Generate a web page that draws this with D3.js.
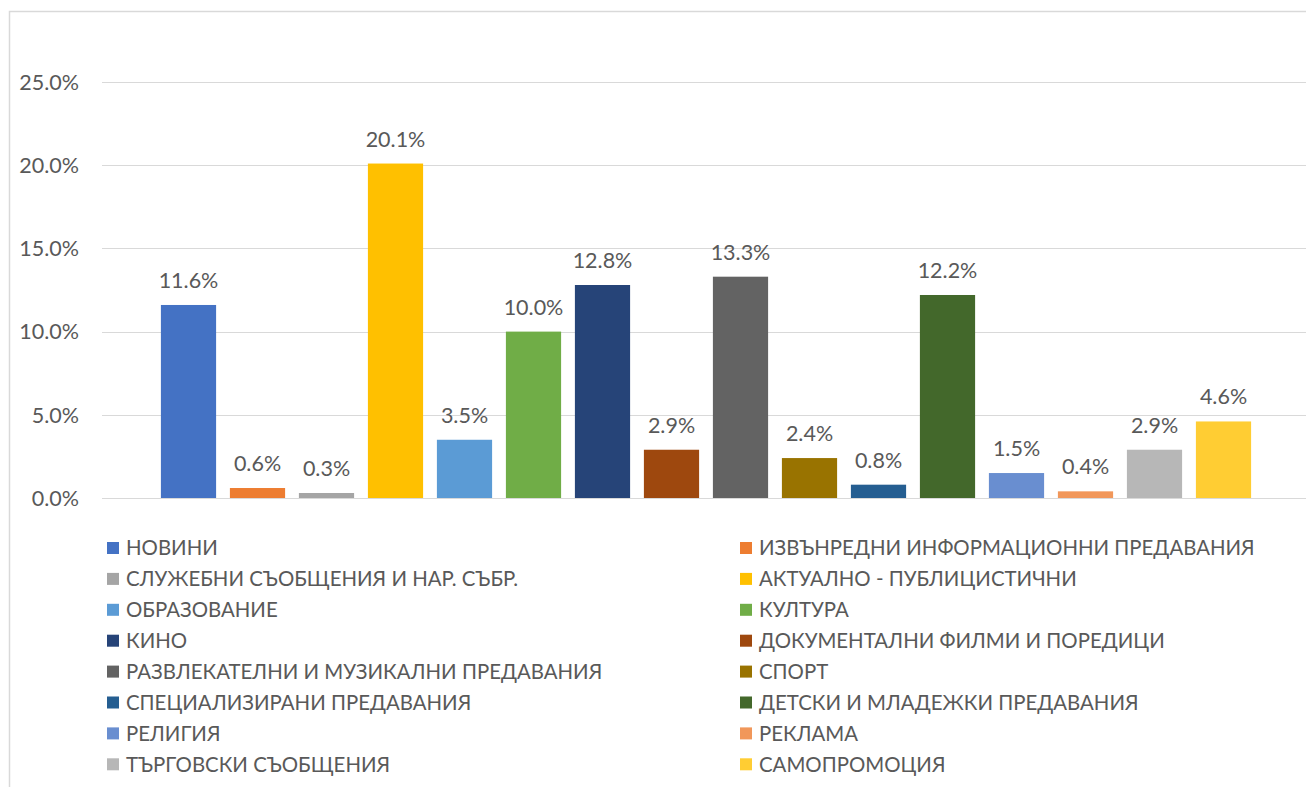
<!DOCTYPE html>
<html lang="bg">
<head>
<meta charset="utf-8">
<title>Програмна структура</title>
<script src="https://cdn.jsdelivr.net/npm/d3@7"></script>
<style>
  body { margin: 0; background: #fff; }
  text { font-family: Lato, "Open Sans", sans-serif; fill: #595959; }
</style>
</head>
<body>
<div id="chart"></div>
<script>
// data
var categories = ["НОВИНИ", "ИЗВЪНРЕДНИ ИНФОРМАЦИОННИ ПРЕДАВАНИЯ", "СЛУЖЕБНИ СЪОБЩЕНИЯ И НАР. СЪБР.",
  "АКТУАЛНО - ПУБЛИЦИСТИЧНИ", "ОБРАЗОВАНИЕ", "КУЛТУРА", "КИНО", "ДОКУМЕНТАЛНИ ФИЛМИ И ПОРЕДИЦИ",
  "РАЗВЛЕКАТЕЛНИ И МУЗИКАЛНИ ПРЕДАВАНИЯ", "СПОРТ", "СПЕЦИАЛИЗИРАНИ ПРЕДАВАНИЯ", "ДЕТСКИ И МЛАДЕЖКИ ПРЕДАВАНИЯ",
  "РЕЛИГИЯ", "РЕКЛАМА", "ТЪРГОВСКИ СЪОБЩЕНИЯ", "САМОПРОМОЦИЯ"];
var values = [11.6, 0.6, 0.3, 20.1, 3.5, 10.0, 12.8, 2.9, 13.3, 2.4, 0.8, 12.2, 1.5, 0.4, 2.9, 4.6];
var yTicks = [0, 5, 10, 15, 20, 25];
var colors = ["#4472C4", "#ED7D31", "#A5A5A5", "#FFC000", "#5B9BD5", "#70AD47", "#264478", "#9E480E",
  "#636363", "#997300", "#255E91", "#43682B", "#698ED0", "#F1975A", "#B7B7B7", "#FFCD33"];

var W = 1306, H = 787;
var svg = d3.select("#chart").append("svg")
    .attr("width", W).attr("height", H);

// chart area border (runs off the right and bottom edge)
svg.append("rect")
    .attr("x", 9.5).attr("y", 11.5)
    .attr("width", W + 20).attr("height", H + 20)
    .attr("fill", "none").attr("stroke", "#d9d9d9").attr("stroke-width", 1.5);

var x = d3.scaleBand()
    .domain(categories)
    .range([154, 1258])
    .paddingInner(0.2)
    .paddingOuter(0.1);

var y = d3.scaleLinear()
    .domain([0, 25])
    .range([498, 82]);

// gridlines
svg.append("g").selectAll("line")
    .data(yTicks)
  .enter().append("line")
    .attr("x1", 102).attr("x2", W)
    .attr("y1", function(d) { return Math.round(y(d)) + 0.5; })
    .attr("y2", function(d) { return Math.round(y(d)) + 0.5; })
    .attr("stroke", "#d9d9d9").attr("stroke-width", 1);

// y labels
svg.append("g").selectAll("text")
    .data(yTicks)
  .enter().append("text")
    .attr("x", 79)
    .attr("y", function(d) { return y(d); })
    .attr("dy", "0.36em")
    .attr("text-anchor", "end")
    .style("font-size", "21.5px")
    .text(function(d) { return d.toFixed(1) + "%"; });

// bars
svg.append("g").selectAll("rect")
    .data(values)
  .enter().append("rect")
    .attr("x", function(d, i) { return x(categories[i]); })
    .attr("width", x.bandwidth())
    .attr("y", function(d) { return y(d); })
    .attr("height", function(d) { return y(0) - y(d); })
    .attr("fill", function(d, i) { return colors[i]; });

// value labels
svg.append("g").selectAll("text")
    .data(values)
  .enter().append("text")
    .attr("x", function(d, i) { return x(categories[i]) + x.bandwidth() / 2; })
    .attr("y", function(d) { return y(d) - 17; })
    .attr("text-anchor", "middle")
    .style("font-size", "21.5px")
    .text(function(d) { return d.toFixed(1) + "%"; });

// legend, two columns
var legend = svg.append("g").selectAll("g")
    .data(categories)
  .enter().append("g")
    .attr("transform", function(d, i) {
      var col = i % 2, row = Math.floor(i / 2);
      return "translate(" + (col ? 740 : 107) + "," + (548 + row * 30.9) + ")";
    });

legend.append("rect")
    .attr("x", 0).attr("y", -6)
    .attr("width", 12).attr("height", 12)
    .attr("fill", function(d, i) { return colors[i]; });

legend.append("text")
    .attr("x", 19).attr("dy", "0.36em")
    .style("font-size", "20.4px")
    .text(function(d) { return d; });
</script>
</body>
</html>
